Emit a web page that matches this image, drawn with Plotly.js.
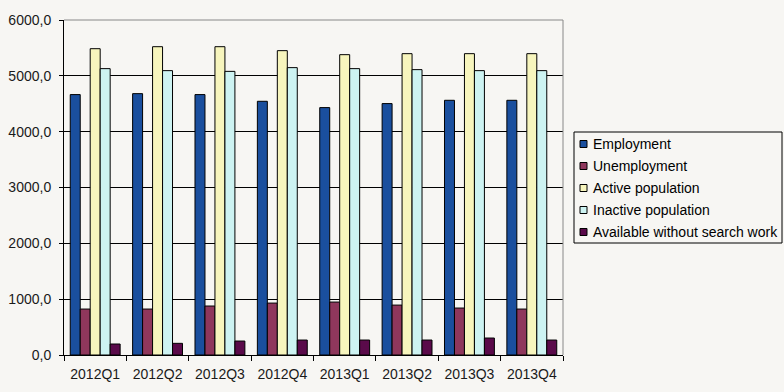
<!DOCTYPE html>
<html>
<head>
<meta charset="utf-8">
<script src="https://cdn.plot.ly/plotly-3.0.1.min.js"></script>
<style>html,body{margin:0;padding:0;background:#f7f6f3;}#chart{width:784px;height:392px;}</style>
</head>
<body>
<div id="chart"></div>
<script>
const quarters = ["2012Q1","2012Q2","2012Q3","2012Q4","2013Q1","2013Q2","2013Q3","2013Q4"];
const employment = [4664, 4681, 4664, 4544, 4431, 4503, 4562, 4562];
const unemployment = [823, 823, 877, 930, 948, 894, 841, 823];
const activePopulation = [5486, 5522, 5522, 5451, 5379, 5397, 5397, 5397];
const inactivePopulation = [5129, 5093, 5080, 5147, 5129, 5111, 5093, 5093];
const availableWithoutSearch = [197, 209, 250, 268, 268, 268, 304, 268];
const seriesNames = ["Employment","Unemployment","Active population","Inactive population","Available without search work"];
const seriesColors = ["#1a4f9e","#8f375c","#f7f5bd","#cdf3f2","#5a0a4a"];
const seriesValues = [employment, unemployment, activePopulation, inactivePopulation, availableWithoutSearch];

const traces = seriesValues.map((vals, i) => ({
  type: "bar",
  name: seriesNames[i],
  x: quarters,
  y: vals,
  marker: {color: seriesColors[i], line: {color: "#000000", width: 1}},
  hoverinfo: "x+y+name",
  showlegend: false
}));

// plot area in pixels
const W = 784, H = 392, ML = 64, MR = 221, MT = 20, MB = 37;
const PW = W - ML - MR, PH = H - MT - MB;
const px2x = p => (p - ML) / PW;
const px2y = p => (H - MB - p) / PH;

// custom legend (box, swatches, text)
const legBox = {x0: 574, x1: 782, y0: 132, y1: 243};
const shapes = [
  {type: "line", xref: "paper", yref: "paper", x0: 0, x1: 1, y0: 1, y1: 1, line: {color: "#888", width: 1}},
  {type: "line", xref: "paper", yref: "paper", x0: 1, x1: 1, y0: 0, y1: 1, line: {color: "#888", width: 1}},
  {type: "rect", xref: "paper", yref: "paper",
   x0: px2x(legBox.x0), x1: px2x(legBox.x1), y0: px2y(legBox.y1), y1: px2y(legBox.y0),
   line: {color: "#000", width: 1}, fillcolor: "#f7f6f3", layer: "above"}
];
const annotations = [];
seriesNames.forEach((name, i) => {
  const cy = 144 + 22 * i;
  shapes.push({type: "rect", xref: "paper", yref: "paper",
    x0: px2x(580), x1: px2x(587), y0: px2y(cy + 3.5), y1: px2y(cy - 3.5),
    line: {color: "#000", width: 1}, fillcolor: seriesColors[i], layer: "above"});
  annotations.push({xref: "paper", yref: "paper", x: px2x(591), y: px2y(cy),
    xanchor: "left", yanchor: "middle", text: name, showarrow: false,
    font: {size: 14, color: "#000"}});
});

const layout = {
  width: W, height: H,
  margin: {l: ML, r: MR, t: MT, b: MB},
  paper_bgcolor: "#f7f6f3",
  plot_bgcolor: "#f7f6f3",
  barmode: "group",
  bargap: 0.2,
  bargroupgap: 0,
  separators: ",.",
  font: {family: "Liberation Sans, Arial, sans-serif", size: 14, color: "#1a1a1a"},
  xaxis: {
    type: "category",
    tickson: "boundaries",
    ticks: "outside", ticklen: 5, tickcolor: "#000",
    ticklabelstandoff: 6,
    showline: true, linecolor: "#000", linewidth: 1,
    showgrid: false,
    tickfont: {size: 14}
  },
  yaxis: {
    range: [0, 6000],
    dtick: 1000,
    tickformat: ".1f",
    ticks: "outside", ticklen: 4, tickcolor: "#000",
    ticklabelstandoff: 5,
    showline: true, linecolor: "#000", linewidth: 1,
    showgrid: true, gridcolor: "#000", gridwidth: 1,
    zeroline: false,
    tickfont: {size: 14}
  },
  shapes: shapes,
  annotations: annotations,
  showlegend: false
};

Plotly.newPlot("chart", traces, layout, {displayModeBar: false, responsive: false});
</script>
</body>
</html>
